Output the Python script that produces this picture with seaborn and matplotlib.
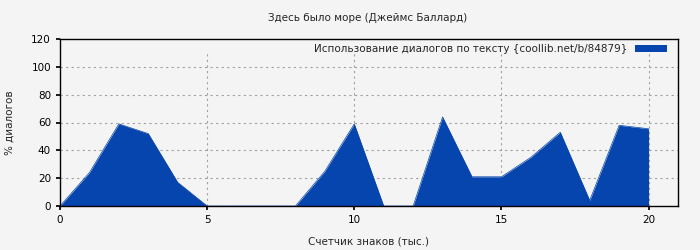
import matplotlib
matplotlib.use("Agg")
import matplotlib.pyplot as plt
from matplotlib.patches import Rectangle
import seaborn as sns
import pandas as pd

x_vals = [0, 1, 2, 3, 4, 5, 6, 7, 8, 9, 10, 11, 12, 13, 14, 15, 16, 17, 18, 19, 20]
y_vals = [0, 24, 59, 52, 17, 0, 0, 0, 0, 25, 59, 0, 0, 64, 21, 21, 35, 53, 4, 58, 55.5]
series_label = "Использование диалогов по тексту {coollib.net/b/84879}"
title = "Здесь было море (Джеймс Баллард)"
xlabel = "Счетчик знаков (тыс.)"
ylabel = "% диалогов"

df = pd.DataFrame({"x": x_vals, "y": y_vals})

sns.set_theme(style="white")
plt.rcParams['font.family'] = ['DejaVu Sans']
bg = "#f4f4f4"
color = "#0645ad"
fs = 7.5

fig = plt.figure(figsize=(7, 2.5), dpi=100, facecolor=bg)
ax = fig.add_axes([60/700, 1-206/250, 618/700, 167/250])
ax.set_facecolor(bg)

sns.lineplot(data=df, x="x", y="y", ax=ax, color=color, linewidth=0.5)
ax.fill_between(df["x"], df["y"], 0, color=color, linewidth=0, label=series_label, zorder=2)

ax.set_xlim(0, 21)
ax.set_ylim(0, 120)
ax.set_xticks([0, 5, 10, 15, 20])
ax.set_yticks([0, 20, 40, 60, 80, 100, 120])
ax.set_axisbelow(True)
ax.grid(True, color="#a0a0a0", linestyle=(0, (2, 3)), linewidth=0.8)
# legend band covering the grid at the top
ax.add_patch(Rectangle((0, 1 - 14/167), 1, 14/167, transform=ax.transAxes,
                       facecolor=bg, edgecolor="none", zorder=0.8))
for s in ax.spines.values():
    s.set_color("black")
    s.set_linewidth(1)
    s.set_zorder(5)
ax.tick_params(axis="both", labelsize=fs, colors="black", length=3, direction="out", bottom=True, left=True)
ax.set_xlabel(xlabel, fontsize=fs, labelpad=8)
ax.set_ylabel(ylabel, fontsize=fs, labelpad=12)
fig.text(368/700, 1-18/250, title, ha="center", va="center", fontsize=fs)

leg = ax.legend(loc="upper right", fontsize=fs, markerfirst=False, frameon=False,
                handlelength=3.0, handleheight=0.6, borderaxespad=0.2,
                borderpad=0.3, bbox_to_anchor=(0.99, 1.0))

fig.savefig("out.png", dpi=100, facecolor=bg)
